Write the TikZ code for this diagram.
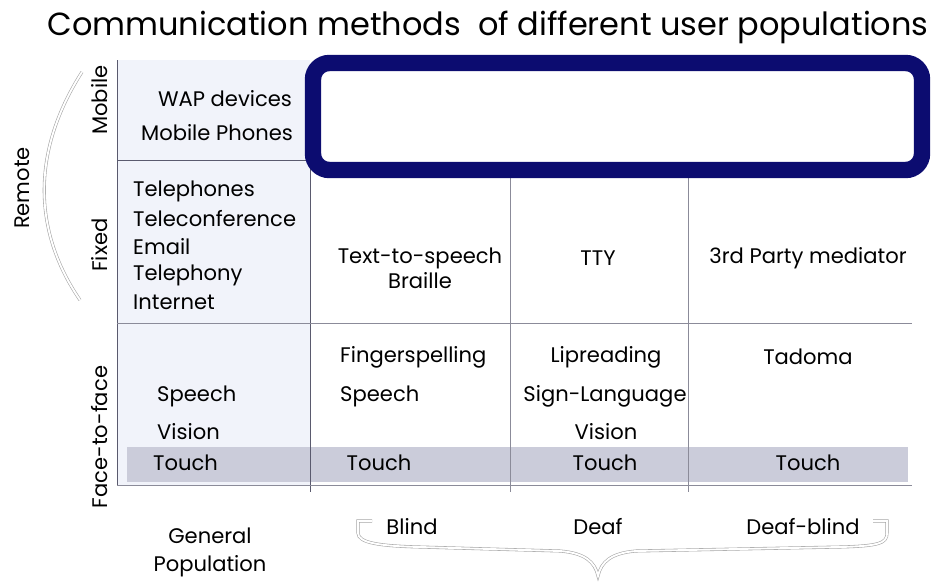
\documentclass[tikz,border=0pt]{standalone}
\usepackage{fontspec}
\setmainfont{Poppins}
\usepackage{xcolor}
\usetikzlibrary{positioning}
\definecolor{boxblue}{RGB}{12,12,112}
\definecolor{gridline}{RGB}{90,90,110}
\definecolor{touchband}{RGB}{203,204,218}
\definecolor{leftcol}{RGB}{241,243,250}
\begin{document}
\begin{tikzpicture}[
    x=0.03cm, y=-0.03cm,
    txt/.style={font=\fontsize{18}{21}\selectfont, inner sep=0pt},%cell texts
    lefttxt/.style={txt, anchor=west},
    sidetxt/.style={txt, rotate=90},
    grid/.style={draw=gridline, line width=0.6pt},
    thingrid/.style={draw=gridline!70, line width=0.4pt},
    hollow/.style={draw=gray!70, double=white, double distance=1.6pt, line width=0.5pt}
  ]
  \useasboundingbox (0,0) rectangle (933,584);
  % backgrounds
  \fill[leftcol] (117,60) rectangle (310,485);
  \fill[touchband] (127,447) rectangle (908,482);
  % grid lines
  \draw[grid] (117,60) -- (117,485);
  \draw[grid] (117,160) -- (310,160);
  \draw[grid] (310,160) -- (310,492);
  \draw[thingrid] (510,175) -- (510,492);
  \draw[thingrid] (688,175) -- (688,492);
  \draw[thingrid] (117,323) -- (912,323);
  \draw[thingrid] (117,485) -- (912,485);
  % highlighted mobile row
  \draw[boxblue, line width=14pt, rounded corners=14pt] (313,63) rectangle (922,170);
  % title
  \node (title) [font=\fontsize{27.3}{30}\selectfont, inner sep=0pt] at (488,27)
    {Communication methods\ \ of different user populations};
  % side labels
  \node (remote) [sidetxt] at (22,188) {Remote};
  \node (mobile) [sidetxt] at (100,100) {Mobile};
  \node (fixed) [sidetxt] at (100,245) {Fixed};
  \node (f2f) [sidetxt] at (100,437) {Face-to-face};
  \draw[hollow] (82,72) .. controls (32,150) and (32,230) .. (80,300);
  % general population column
  \node (wap) [txt] at (225,99) {WAP devices};
  \node (mphones) [txt] at (217,133) {Mobile Phones};
  \node (tphones) [lefttxt] at (133,191) {Telephones};
  \node (tconf) [lefttxt] at (133,219) {Teleconference};
  \node (email) [lefttxt] at (133,247) {Email};
  \node (tphony) [lefttxt] at (133,275) {Telephony};
  \node (inet) [lefttxt] at (133,302) {Internet};
  \node (gspeech) [lefttxt] at (157,396) {Speech};
  \node (gvision) [lefttxt] at (157,432) {Vision};
  \node (gtouch) [lefttxt] at (153,463) {Touch};
  % blind column
  \node (tts) [txt] at (420,258) {Text-to-speech};
  \node (braille) [txt] at (420,281) {Braille};
  \node (fspell) [lefttxt] at (340,357) {Fingerspelling};
  \node (bspeech) [lefttxt] at (340,396) {Speech};
  \node (btouch) [txt] at (379,463) {Touch};
  % deaf column
  \node (tty) [txt] at (598,258) {TTY};
  \node (lipread) [txt] at (606,357) {Lipreading};
  \node (signlang) [txt] at (605,396) {Sign-Language};
  \node (dvision) [txt] at (606,432) {Vision};
  \node (dtouch) [txt] at (605,463) {Touch};
  % deaf-blind column
  \node (mediator) [txt] at (808,258) {3rd Party mediator};
  \node (tadoma) [txt] at (808,357) {Tadoma};
  \node (dbtouch) [txt] at (808,463) {Touch};
  % populations
  \node (general) [txt, align=center, font=\fontsize{18}{24}\selectfont] at (210,552) {General\\Population};
  \node (blind) [txt] at (412,527) {Blind};
  \node (deaf) [txt] at (598,527) {Deaf};
  \node (deafblind) [txt] at (803,527) {Deaf-blind};
  \draw[hollow] (372,521) -- (358,521) -- (358,533)
    .. controls (358,543) and (380,546) .. (420,547) -- (560,551)
    .. controls (585,553) and (595,562) .. (598,576)
    .. controls (601,562) and (611,553) .. (636,551) -- (840,547)
    .. controls (880,546) and (887,543) .. (887,533) -- (887,521) -- (873,521);
\end{tikzpicture}
\end{document}
